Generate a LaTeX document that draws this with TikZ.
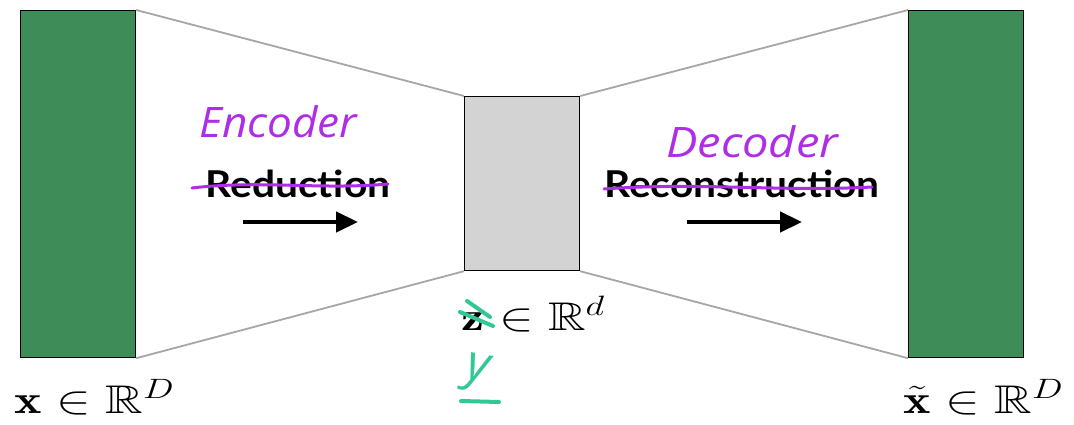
\RequirePackage{fix-cm}
\documentclass[tikz,border=0pt]{standalone}
\usepackage{amssymb}
\usepackage{fontspec}
\newfontfamily\labelfont{Lato}
\newfontfamily\handfont{Open Sans}
\usetikzlibrary{arrows.meta}
\definecolor{boxgreen}{RGB}{62,140,88}
\definecolor{boxgray}{RGB}{211,211,211}
\definecolor{penpurple}{RGB}{175,45,230}
\definecolor{penteal}{RGB}{50,200,150}
\tikzset{
  greenbox/.style={draw=black, line width=1.2pt, fill=boxgreen},
  graybox/.style={draw=black, line width=1.2pt, fill=boxgray},
  funnel/.style={draw=black!35, line width=1.8pt},
  stagelabel/.style={font=\labelfont\bfseries\fontsize{37}{42}\selectfont, inner sep=0pt, anchor=base, xscale=1.1},
  bigarrow/.style={line width=4.5pt, -{Triangle[length=22pt,width=20pt]}},
  mathlabel/.style={font=\fontsize{20}{24}\selectfont, inner sep=0pt, anchor=base west, xscale=2.6, yscale=2},
  hand/.style={font=\handfont\itshape\fontsize{42}{46}\selectfont, text=penpurple, inner sep=0pt},
  strike/.style={draw=penpurple, line width=3pt, line cap=round},
  tealpen/.style={draw=penteal, line width=4pt, line cap=round}
}
\begin{document}
\begin{tikzpicture}[x=1pt,y=-1pt]
\useasboundingbox (0,0) rectangle (1074,425);
% boxes
\node[greenbox, minimum width=115pt, minimum height=347pt, inner sep=0pt, anchor=north west] (inbox) at (20,10) {};
\node[greenbox, minimum width=115pt, minimum height=347pt, inner sep=0pt, anchor=north west] (outbox) at (908,10) {};
\node[graybox, minimum width=115pt, minimum height=174pt, inner sep=0pt, anchor=north west] (code) at (464,96) {};
% funnel lines
\draw[funnel] (inbox.north east) -- (code.north west);
\draw[funnel] (inbox.south east) -- (code.south west);
\draw[funnel] (code.north east) -- (outbox.north west);
\draw[funnel] (code.south east) -- (outbox.south west);
% stage labels
\node[stagelabel] (red) at (298,197) {Reduction};
\node[stagelabel] (rec) at (742,197) {Reconstruction};
% arrows
\coordinate (a1s) at (243,222); \coordinate (a1e) at (358,222);
\coordinate (a2s) at (687,222); \coordinate (a2e) at (802,222);
\draw[bigarrow] (a1s) -- (a1e);
\draw[bigarrow] (a2s) -- (a2e);
% math labels
\node[mathlabel] (xlab) at (14,413) {$\mathbf{x}\in\mathbb{R}^{D}$};
\node[mathlabel] (zlab) at (461,330) {$\mathbf{z}\in\mathbb{R}^{d}$};
\node[mathlabel] (xtlab) at (903,413) {$\tilde{\mathbf{x}}\in\mathbb{R}^{D}$};
% handwritten annotations
\node[hand, anchor=base west, xscale=1.05] (enc) at (199,138) {Encoder};
\node[hand, anchor=base west, xscale=1.12] (dec) at (666,158) {Decoder};
\coordinate (s1a) at (192,188); \coordinate (s1b) at (388,184);
\coordinate (s2a) at (604,189); \coordinate (s2b) at (872,187);
\draw[strike] (s1a) .. controls (260,180) and (320,190) .. (s1b);
\draw[strike] (s2a) .. controls (700,182) and (780,192) .. (s2b);
% teal scribble over z
\coordinate (t1) at (460,312); \coordinate (t2) at (493,326);
\coordinate (t3) at (467,301); \coordinate (t4) at (490,317);
\draw[tealpen] (t1) -- (t2);
\draw[tealpen] (t3) -- (t4);
% teal y
\node[font=\handfont\itshape\fontsize{50}{52}\selectfont, text=penteal, inner sep=0pt, anchor=base, rotate=-10] (ylab) at (476,380) {y};
\coordinate (u1) at (461,401); \coordinate (u2) at (499,402);
\draw[tealpen] (u1) -- (u2);
\end{tikzpicture}
\end{document}
